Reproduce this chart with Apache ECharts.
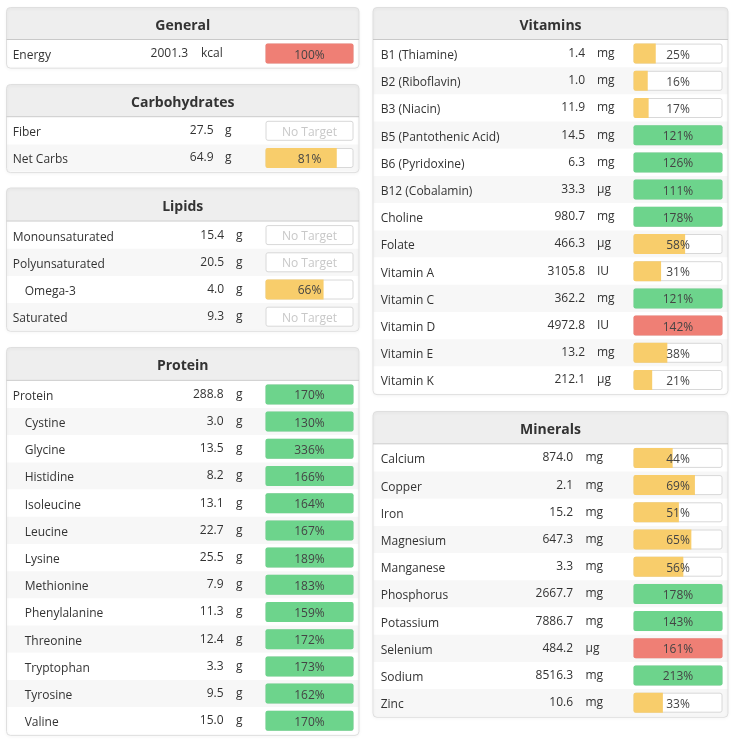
<!DOCTYPE html>
<html><head><meta charset="utf-8">
<script src="https://cdn.jsdelivr.net/npm/echarts@6/dist/echarts.min.js"></script>
<style>html,body{margin:0;padding:0;background:#fff}#c{width:735px;height:741px}</style>
</head><body><div id="c"></div>
<script>
// ---------- DATA ----------
const generalNames = ['Energy'];
const generalAmounts = [2001.3];
const generalUnits = ['kcal'];
const generalPercents = [100];

const carbNames = ['Fiber', 'Net Carbs'];
const carbAmounts = [27.5, 64.9];
const carbUnits = ['g', 'g'];
const carbPercents = [null, 81];

const lipidNames = ['Monounsaturated', 'Polyunsaturated', 'Omega-3', 'Saturated'];
const lipidAmounts = [15.4, 20.5, 4.0, 9.3];
const lipidUnits = ['g', 'g', 'g', 'g'];
const lipidPercents = [null, null, 66, null];

const proteinNames = ['Protein', 'Cystine', 'Glycine', 'Histidine', 'Isoleucine', 'Leucine', 'Lysine',
  'Methionine', 'Phenylalanine', 'Threonine', 'Tryptophan', 'Tyrosine', 'Valine'];
const proteinAmounts = [288.8, 3.0, 13.5, 8.2, 13.1, 22.7, 25.5, 7.9, 11.3, 12.4, 3.3, 9.5, 15.0];
const proteinUnits = ['g', 'g', 'g', 'g', 'g', 'g', 'g', 'g', 'g', 'g', 'g', 'g', 'g'];
const proteinPercents = [170, 130, 336, 166, 164, 167, 189, 183, 159, 172, 173, 162, 170];

const vitaminNames = ['B1 (Thiamine)', 'B2 (Riboflavin)', 'B3 (Niacin)', 'B5 (Pantothenic Acid)',
  'B6 (Pyridoxine)', 'B12 (Cobalamin)', 'Choline', 'Folate', 'Vitamin A', 'Vitamin C',
  'Vitamin D', 'Vitamin E', 'Vitamin K'];
const vitaminAmounts = [1.4, 1.0, 11.9, 14.5, 6.3, 33.3, 980.7, 466.3, 3105.8, 362.2, 4972.8, 13.2, 212.1];
const vitaminUnits = ['mg', 'mg', 'mg', 'mg', 'mg', 'µg', 'mg', 'µg', 'IU', 'mg', 'IU', 'mg', 'µg'];
const vitaminPercents = [25, 16, 17, 121, 126, 111, 178, 58, 31, 121, 142, 38, 21];

const mineralNames = ['Calcium', 'Copper', 'Iron', 'Magnesium', 'Manganese', 'Phosphorus',
  'Potassium', 'Selenium', 'Sodium', 'Zinc'];
const mineralAmounts = [874.0, 2.1, 15.2, 647.3, 3.3, 2667.7, 7886.7, 484.2, 8516.3, 10.6];
const mineralUnits = ['mg', 'mg', 'mg', 'mg', 'mg', 'mg', 'mg', 'µg', 'mg', 'mg'];
const mineralPercents = [44, 69, 51, 65, 56, 178, 143, 161, 213, 33];

const indentedNames = ['Omega-3', 'Cystine', 'Glycine', 'Histidine', 'Isoleucine', 'Leucine', 'Lysine',
  'Methionine', 'Phenylalanine', 'Threonine', 'Tryptophan', 'Tyrosine', 'Valine'];
const overLimitNames = ['Energy', 'Vitamin D', 'Selenium'];

// ---------- LAYOUT ----------
const ROW_H = 27.2;
const TEXT_DROP = 4; // top padding that lowers text ~2px so cap-centre meets row centre
const COLS = [
  { panelX: 6.5, panelW: 352.5, gridLeft: 7, gridW: 351.5, barL: 265.5, barR: 353.5, nameX: 12.7 },
  { panelX: 373, panelW: 355, gridLeft: 373.5, gridW: 354.5, barL: 633.5, barR: 722.5, nameX: 380.7 }
];
const sections = [
  { title: 'General', names: generalNames, amounts: generalAmounts, units: generalUnits, pcts: generalPercents,
    col: 0, top: 7.5, gridTop: 40, valueRight: 188, unitLeft: 201 },
  { title: 'Carbohydrates', names: carbNames, amounts: carbAmounts, units: carbUnits, pcts: carbPercents,
    col: 0, top: 84.5, gridTop: 117.2, valueRight: 213.5, unitLeft: 225 },
  { title: 'Lipids', names: lipidNames, amounts: lipidAmounts, units: lipidUnits, pcts: lipidPercents,
    col: 0, top: 188, gridTop: 221.5, valueRight: 224, unitLeft: 236 },
  { title: 'Protein', names: proteinNames, amounts: proteinAmounts, units: proteinUnits, pcts: proteinPercents,
    col: 0, top: 347.5, gridTop: 380.8, valueRight: 223.5, unitLeft: 236 },
  { title: 'Vitamins', names: vitaminNames, amounts: vitaminAmounts, units: vitaminUnits, pcts: vitaminPercents,
    col: 1, top: 7.5, gridTop: 40, valueRight: 585, unitLeft: 597 },
  { title: 'Minerals', names: mineralNames, amounts: mineralAmounts, units: mineralUnits, pcts: mineralPercents,
    col: 1, top: 411.5, gridTop: 444.3, valueRight: 573, unitLeft: 585.5 }
];

const COLOR_RED = '#ef7f75', COLOR_GREEN = '#6dd48c', COLOR_YELLOW = '#f8cd6b';
const FONT = '"Open Sans", "Noto Sans", sans-serif';
const TEXT_COLOR = '#333';

const grids = [], xAxes = [], yAxes = [], series = [], graphics = [];

sections.forEach((s, i) => {
  const c = COLS[s.col];
  const n = s.names.length;
  const h = n * ROW_H;
  grids.push({ left: c.gridLeft, top: s.gridTop, width: c.gridW, height: h });
  const ppu = (c.barR - c.barL) / 100;
  const min = -(c.barL - c.gridLeft) / ppu;
  const max = min + c.gridW / ppu;
  xAxes.push({ gridIndex: i, type: 'value', min: min, max: max, show: false });

  const baseY = yAxes.length;
  const commonY = {
    gridIndex: i, type: 'category', inverse: true, data: s.names, position: 'left',
    axisLine: { show: false }, axisTick: { show: false }, splitLine: { show: false }
  };
  // name column
  yAxes.push(Object.assign({}, commonY, {
    offset: -(c.nameX - c.gridLeft),
    splitArea: { show: true, areaStyle: { color: ['#ffffff', '#f7f7f7'] } },
    axisLabel: {
      margin: 0, align: 'left', fontFamily: FONT, fontSize: 12, color: TEXT_COLOR,
      padding: [TEXT_DROP, 0, 0, 0],
      formatter: (v) => indentedNames.includes(v) ? '{ind|' + v + '}' : v,
      rich: { ind: { padding: [0, 0, 0, 12], fontFamily: FONT, fontSize: 12, color: TEXT_COLOR } }
    }
  }));
  // amount column
  yAxes.push(Object.assign({}, commonY, {
    offset: -(s.valueRight - c.gridLeft),
    axisLabel: {
      margin: 0, align: 'right', fontFamily: FONT, fontSize: 12, color: TEXT_COLOR,
      padding: [TEXT_DROP, 0, 0, 0],
      formatter: (v, idx) => s.amounts[idx].toFixed(1)
    }
  }));
  // unit column
  yAxes.push(Object.assign({}, commonY, {
    offset: -(s.unitLeft - c.gridLeft),
    axisLabel: {
      margin: 0, align: 'left', fontFamily: FONT, fontSize: 12, color: TEXT_COLOR,
      padding: [TEXT_DROP, 0, 0, 0],
      formatter: (v, idx) => s.units[idx]
    }
  }));

  const barCommon = { type: 'bar', xAxisIndex: i, yAxisIndex: baseY, barWidth: 20, barGap: '-100%', silent: true, animation: false };
  series.push(Object.assign({}, barCommon, {
    name: s.title + '-bg',
    data: s.names.map(() => 100),
    itemStyle: { color: '#ffffff', borderColor: '#d8d8d8', borderWidth: 1, borderRadius: 2 },
    z: 2
  }));
  series.push(Object.assign({}, barCommon, {
    name: s.title + '-fill',
    data: s.pcts.map((p, k) => {
      if (p == null) return '-';
      const v = Math.min(p, 100);
      let color = p >= 100 ? COLOR_GREEN : COLOR_YELLOW;
      if (overLimitNames.includes(s.names[k])) color = COLOR_RED;
      return { value: v, itemStyle: { color: color, borderRadius: v >= 100 ? 2 : [2, 0, 0, 2] } };
    }),
    z: 3
  }));
  series.push(Object.assign({}, barCommon, {
    name: s.title + '-label',
    data: s.pcts.map((p) => ({
      value: 100,
      label: { color: p == null ? '#c8c8c8' : '#444' }
    })),
    itemStyle: { color: 'rgba(0,0,0,0)' },
    label: {
      show: true, position: 'inside', fontFamily: FONT, fontSize: 12,
      offset: [0, 1.5],
      formatter: (p) => s.pcts[p.dataIndex] == null ? 'No Target' : s.pcts[p.dataIndex] + '%'
    },
    z: 4
  }));

  // panel frame and header
  const panelH = (s.gridTop - s.top) + h + 1;
  graphics.push({
    type: 'rect', silent: true, z: 100,
    shape: { x: c.panelX, y: s.top, width: c.panelW, height: panelH, r: 4 },
    style: { fill: 'rgba(0,0,0,0)', stroke: '#dfdfdf', lineWidth: 1, shadowBlur: 3, shadowColor: 'rgba(0,0,0,0.08)', shadowOffsetY: 1 }
  });
  graphics.push({
    type: 'rect', silent: true, z: 99,
    shape: { x: c.panelX, y: s.top, width: c.panelW, height: s.gridTop - s.top - 1, r: [4, 4, 0, 0] },
    style: { fill: '#eeeeee' }
  });
  graphics.push({
    type: 'line', silent: true, z: 101,
    shape: { x1: c.panelX, y1: s.gridTop - 0.5, x2: c.panelX + c.panelW, y2: s.gridTop - 0.5 },
    style: { stroke: '#c9c9c9', lineWidth: 1 }
  });
  graphics.push({
    type: 'text', silent: true, z: 102,
    style: {
      text: s.title, x: c.panelX + c.panelW / 2, y: (s.top + s.gridTop) / 2 + 2,
      align: 'center', verticalAlign: 'middle',
      font: 'bold 14px ' + FONT, fill: TEXT_COLOR
    }
  });
});

const chart = echarts.init(document.getElementById('c'), null, { renderer: 'canvas', width: 735, height: 741 });
chart.setOption({
  animation: false,
  backgroundColor: '#ffffff',
  grid: grids,
  xAxis: xAxes,
  yAxis: yAxes,
  series: series,
  graphic: graphics
});
</script>
</body></html>
